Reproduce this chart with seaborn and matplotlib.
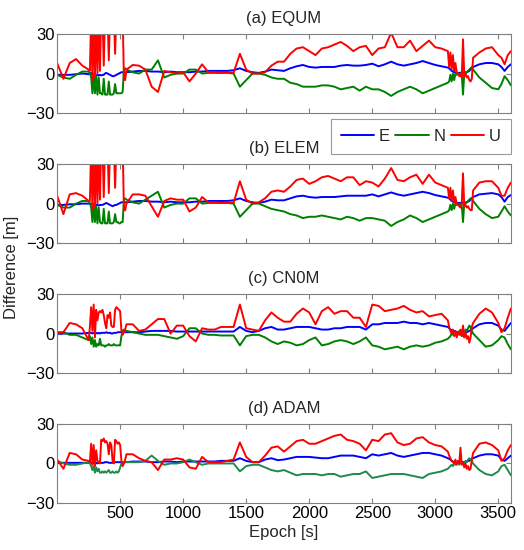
import numpy as np
import pandas as pd
import seaborn as sns
import matplotlib.pyplot as plt
from matplotlib.lines import Line2D

# sampling epochs [s] (denser where the solutions jump around)
epoch = ([0, 50, 100, 150, 200, 250]
         + [260, 270, 280, 290, 300, 310, 320, 330, 340, 350, 360, 370, 380, 390, 400,
            410, 420, 430, 440, 450, 460, 470, 480, 490, 500, 510, 520, 530, 540]
         + [550, 600, 650, 700, 750, 800, 850, 900, 950, 1000, 1050, 1100, 1150, 1200,
            1250, 1300, 1350, 1400, 1450, 1500, 1550, 1600, 1650, 1700, 1750, 1800,
            1850, 1900, 1950, 2000, 2050, 2100, 2150, 2200, 2250, 2300, 2350, 2400,
            2450, 2500, 2550, 2600, 2650, 2700, 2750, 2800, 2850, 2900, 2950, 3000,
            3050, 3100]
         + [3110, 3120, 3130, 3140, 3150, 3160, 3170, 3180, 3190, 3200, 3210, 3220,
            3230, 3240, 3250, 3260, 3270, 3280, 3290, 3300]
         + [3350, 3400, 3450, 3500, 3525, 3550, 3575, 3600])

# (a) EQUM
E_a = ([-1, -1, -1, -0.5, 0, -0.5]
       + [0, 0.5, -1, -0.5, -1, -1.5, -1, -1.5, -1, -1.5, -1, -1, 0, 0.5, 0, -0.5, -1, -1.5,
          -2, -2, -1.5, -1, -0.5, 0, 0.5, 1, 1, 1, 1]
       + [1, 1.5, 2, 2, 1.5, 1.5, 1, 1.5, 1, 1, 1, 1.5, 1.5, 2, 2, 2, 2, 2.5, 4, 2, 1, 0.5,
          1.5, 3, 2.5, 2, 4, 5.5, 6.5, 5, 4.5, 5, 5, 5, 6, 6.5, 6, 6, 6.5, 7.5, 5.5, 7, 9,
          7, 6, 7, 8, 9.5, 8, 6.5, 5.5, 4.5]
       + [4, 3, 2, 1.5, 1, 1, 0.5, 0.5, 0.5, 0.5, 1, 0.5, 0.5, 1, 1, 1.5, 2, 3, 4, 5]
       + [7, 8, 8, 7, 5, 2, 5, 7])
N_a = ([-1, -3, -4, -1, 1.5, 1.5]
       + [0, -3, -15, 0, -15, -2, -16, -3, -15, -15, -16, -4, -16, -16, -16, -6, -16, -16,
          -16, -15, -8, -15, -15, -15, -15, -15, -14, 3, 4]
       + [3, 1, 0, 3, 3, 10, -3, -1, 0, 0, 3, 3, 0, 0.5, 0.5, 0.5, 0.5, 0, -10, -5, 0, 0,
          -1, -3, -4, -4, -7, -8, -10, -10, -10, -9, -9, -10, -12, -11, -10, -13, -10, -12,
          -12, -14, -17, -14, -12, -10, -12, -15, -13, -11, -9, -7]
       + [-6, -1, -6, 0, -5, 0, -1, 0, -1, 0, -1, -16, 0, 0, 1, 2, 3, 4, 5, 3]
       + [-3, -7, -11, -12, -8, -2, -5, -9])
U_a = ([8, -4, 8, 11, 6, 3]
       + [2, 45, -5, 45, -3, 45, 0, 45, 2, 45, 45, 6, 45, 45, 45, 10, 45, 45, 45, 45, 15,
          45, 45, 45, 45, 45, 45, -4, -5]
       + [3, 6.5, 6, 3, -10, -14, 2, 1, 0, 1, -6, 0, 7, 1, 1, 0.5, 1, 0.5, 15, 3, 0, 0, 1,
          6, 9, 9, 15, 19, 20, 17, 14, 19, 20, 22, 24, 21, 17, 20, 21, 14, 19, 20, 31, 20,
          20, 25, 17, 21, 25, 20, 19, 17]
       + [5, 16, 3, 14, 2, 8, 1, 0, -2, 0, -3, 26, -2, 0, -3, -2, -5, -6, -4, 12]
       + [16, 19, 20, 14, 12, 7, 14, 17])

# (b) ELEM
E_b = ([-1, -1, -0.5, -0.5, 0, 0]
       + [0, 0, -0.5, -0.5, -1, -1, -1, -1.5, -1, -1, -1, -0.5, 0, 0.5, 0, -0.5, -1, -1.5,
          -2, -1.5, -1, -1, -0.5, 0, 0.5, 1, 1, 1, 1]
       + [1, 1.5, 2, 2, 1.5, 1.5, 1, 1.5, 1, 1, 1, 1.5, 1.5, 2, 2, 2, 2, 2.5, 4, 2, 1, 0.5,
          1.5, 3, 2.5, 2.5, 4, 5.5, 6, 5, 4.5, 5, 5, 5, 5.5, 6, 6, 6, 6, 7, 5.5, 7, 8.5,
          7, 6, 7, 8, 9, 8, 6.5, 5.5, 4.5]
       + [4, 3, 2, 1.5, 1, 1, 0.5, 0.5, 0.5, 0.5, 1, 0.5, 0.5, 1, 1, 1.5, 2, 3, 4, 5]
       + [7, 7.5, 8, 7, 5, 1.5, 5, 6.5])
N_b = ([-1, -3, -3, 0, 2, 2]
       + [0, -3, -14, 0, -14, -2, -15, -3, -14, -15, -15, -4, -15, -15, -15, -6, -15, -15,
          -15, -14, -8, -14, -14, -15, -15, -14, -14, 3, 4]
       + [3, 1, 0, 3, 6, 9, -3, -1, 0, 0, 4, 4, 0, 0.5, 0.5, 0.5, 0.5, 0, -10, -5, 0, 0,
          -2, -4, -5, -6, -8, -9, -11, -10, -10, -9, -10, -11, -12, -10, -11, -13, -11, -11,
          -12, -13, -17, -14, -12, -9, -11, -14, -12, -10, -8, -6]
       + [-5, -1, -5, 0, -4, 0, -1, 0, -1, 0, -1, -14, 0, 0, 1, 2, 3, 4, 4, 2]
       + [-4, -8, -11, -10, -6, -2, -6, -9])
U_b = ([6, -8, 7, 8, 6, 2]
       + [2, 45, -4, 45, -3, 45, 0, 45, 3, 45, 45, 5, 45, 45, 45, 8, 45, 45, 45, 45, 12,
          45, 45, 45, 45, 45, 45, -5, -5]
       + [0, 7, 7, 6, -2, -10, 2, 4, 3, 3, -6, -3, 5, 1, 1, 0.5, 1, 0.5, 17, 3, 0, 1, 4,
          9, 10, 9, 13, 18, 19, 15, 17, 20, 21, 19, 17, 20, 20, 14, 17, 16, 13, 19, 27, 18,
          17, 20, 22, 15, 22, 16, 14, 12]
       + [4, 12, 2, 10, 1, 5, 0, -1, -2, -3, 0, 23, -2, -1, -3, -2, -4, -5, -5, 10]
       + [16, 17, 17, 12, 6, 6, 12, 16])

# (c) CN0M
E_c = ([0, 0, 0, 0, 0, 0.5]
       + [0.5, 0.5, 0, 0.5, 0, 0.5, 0, 0.5, 0, 0.5, 0.5, 0.5, 0.5, 1, 0.5, 0.5, 0.5, 0, 0,
          0.5, 0.5, 0.5, 1, 1, 1, 1, 1, 1, 1]
       + [1, 1, 1, 1.5, 2, 2, 2, 2, 1.5, 1.5, 1.5, 1.5, 1.5, 1.5, 1.5, 1.5, 1.5, 1.5, 5, 2,
          1, 2, 4, 5, 3, 3, 4, 5, 5, 5, 4, 3, 3, 4, 4, 5, 5, 5, 3, 7, 7, 8, 8, 8, 9, 8, 8,
          7, 8, 7, 6, 5]
       + [4, 3, 2.5, 2, 2, 1.5, 1, 1, 1, 1, 1, 1, 1, 1, 1, 1.5, 2, 2.5, 3, 4]
       + [7, 8, 8, 6, 3, 2, 5, 8])
N_c = ([0, 1, -1, -1, -3, -5]
       + [-2, -8, -3, -10, -5, -10, -8, -9, -4, -9, -9, -9, -10, -9, -9, -8, -9, -9, -9,
          -8, -9, -9, -9, -9, -9, -2, 2, 3, 2]
       + [2, 1, 0, -1, -1, -1, -2, -3, -4, -2, 4, 4, 0, -1, -1, -1.5, -1.5, -1.5, -9, -2,
          -1, -1, -3, -6, -8, -6, -7, -9, -8, -5, -3, -9, -8, -6, -5, -6, -8, -6, -3, -9,
          -10, -12, -11, -10, -12, -10, -9, -10, -9, -7, -6, -4]
       + [-3, -2, 0, -1, 0, 1, -1, 0, 2, -1, 1, -2, 0, 3, 2, 4, 6, 5, 2, 0]
       + [-5, -10, -9, -5, -2, -3, -8, -12])
U_c = ([1, 1, 8, 7, 4, -5]
       + [5, 20, 2, 22, -3, 18, 10, 16, 17, 16, 18, 14, 8, 4, 14, 12, 16, 6, 5, 5, 18, 20,
          19, 18, 17, 2, -1, 1, 3]
       + [7, 7, 2, 3, 7, 11, 11, 0, 6, 6, -2, -6, 4, 3, 3, 5, 5, 5, 22, 4, 3, 2, 10, 16,
          12, 9, 9, 15, 19, 16, 7, 17, 20, 15, 17, 17, 12, 12, 5, 22, 21, 17, 18, 19, 21,
          18, 16, 17, 13, 14, 15, 10]
       + [5, 2, 0, 3, -2, 2, -3, 1, -1, 3, -2, 6, -3, 1, -4, -2, -7, -3, 5, 8]
       + [15, 19, 16, 8, 1, 4, 12, 19])

# (d) ADAM
E_d = ([0.5, 0.5, 0.5, 0.5, 0.5, 0.5]
       + [0.5, 0.5, 0, 0.5, 0, 0.5, 0, 0.5, 0.5, 0.5, 0.5, 0.5, 1, 1, 1, 0.5, 0.5, 0.5,
          0.5, 0.5, 1, 1, 1, 1, 1, 1, 1, 1, 1]
       + [1, 1.5, 1.5, 1.5, 1, 1, 1.5, 1.5, 1, 1.5, 1.5, 1.5, 1.5, 1.5, 1.5, 2, 2, 2, 4, 2,
          1, 1, 3, 4, 2.5, 3, 4, 5, 5, 5, 4.5, 4, 4, 5, 6, 6, 6, 5, 4, 7, 6, 7, 8, 6, 5, 6,
          7, 8, 8, 7, 6, 4]
       + [3.5, 3, 2, 1.5, 1, 1, 1, 0.5, 0.5, 0.5, 1, 1, 1, 1, 1.5, 2, 2, 3, 3.5, 4]
       + [6, 7, 7, 6, 3, 2, 4, 6])
N_d = ([2, 0, -1, -1, 0, 1]
       + [0, -2, -5, -2, -7, -3, -6, -4, -7, -7, -6, -7, -6, -7, -6, -5, -7, -7, -6, -7,
          -7, -6, -7, -6, -3, 0, 1, 1, 1]
       + [1, 1, 1, 2, 6, 2, -1, 0, 0, 1, 3, 1, -1, 0, 0, 0, 0, 0, -6, -2, -1, -1, -3, -5,
          -6, -5, -7, -9, -8, -8, -8, -9, -8, -8, -10, -9, -8, -8, -6, -11, -10, -9, -8,
          -8, -8, -9, -10, -11, -8, -7, -6, -4]
       + [-3, -2, -1, -2, 0, -1, 0, 1, -1, 1, 0, 1, 0, 2, 1, 3, 4, 3, 2, 0]
       + [-5, -8, -9, -6, -2, -1, -5, -9])
U_d = ([3, -4, 8, 7, 3, 2]
       + [1, 15, -1, 14, -2, 10, 2, 1, 0, 18, 17, 19, 16, 17, 15, 7, 16, 14, 2, 0, 18, 17,
          15, 16, 14, 2, -2, 0, 3]
       + [7, 7, 4, 2, 1, -5, 3, 3, 4, 3, -3, -4, 5, 1, 1, 1, 2, 3, 16, 5, 1, 1, 6, 12, 13,
          9, 13, 17, 18, 15, 15, 17, 19, 21, 22, 18, 17, 15, 10, 18, 17, 22, 23, 16, 14,
          15, 19, 20, 16, 14, 13, 9]
       + [6, 4, 2, 1, 0, 3, -1, 2, 0, 12, -1, 1, -3, 0, -4, -2, -5, -4, 3, 8]
       + [15, 16, 14, 10, 2, 4, 10, 14])

titles = ['(a) EQUM', '(b) ELEM', '(c) CN0M', '(d) ADAM']
panels = [(E_a, N_a, U_a), (E_b, N_b, U_b), (E_c, N_c, U_c), (E_d, N_d, U_d)]
for p in panels:
    for s in p:
        assert len(s) == len(epoch), (len(s), len(epoch))

sns.set_style('white')
plt.rcParams['font.family'] = ['Liberation Sans', 'DejaVu Sans']
plt.rcParams.update({'xtick.direction': 'in', 'ytick.direction': 'in',
                     'xtick.top': True, 'ytick.right': True,
                     'xtick.major.size': 3.5, 'ytick.major.size': 3.5,
                     'xtick.color': '#808080', 'ytick.color': '#808080',
                     'xtick.labelcolor': 'black', 'ytick.labelcolor': 'black',
                     'xtick.bottom': True, 'ytick.left': True})

FS = 12
LW = 1.4
fig = plt.figure(figsize=(5.24, 5.5), dpi=100)
bottoms = [0.7945, 0.558, 0.3218, 0.0855]
n_green = ['#008000', '#008000', '#008000', '#1f8a4c']

for i, (title, (E, N, U)) in enumerate(zip(titles, panels)):
    ax = fig.add_axes([0.109, bottoms[i], 0.866, 0.1436])
    df = pd.DataFrame({'Epoch': epoch * 3,
                       'Diff': E + N + U,
                       'comp': ['E'] * len(epoch) + ['N'] * len(epoch) + ['U'] * len(epoch)})
    sns.lineplot(data=df, x='Epoch', y='Diff', hue='comp', ax=ax, legend=False,
                 palette={'E': '#0000ff', 'N': n_green[i], 'U': '#ff0000'},
                 estimator=None, sort=False, linewidth=LW)
    ax.set_xlim(0, 3600)
    ax.set_ylim(-30, 30)
    ax.set_yticks([-30, 0, 30])
    ax.set_xticks([500, 1000, 1500, 2000, 2500, 3000, 3500])
    ax.set_ylabel('')
    ax.set_title(title, fontsize=FS, pad=8)
    ax.tick_params(labelsize=FS, pad=2)
    for sp in ax.spines.values():
        sp.set_color('#808080')
        sp.set_linewidth(0.8)
    if i < 3:
        ax.set_xticklabels([])
        ax.set_xlabel('')
    else:
        ax.set_xlabel('Epoch [s]', fontsize=FS, labelpad=3)

fig.text(0.022, 0.513, 'Difference [m]', rotation=90, va='center', ha='center', fontsize=FS)

handles = [Line2D([], [], color='#0000ff', lw=LW),
           Line2D([], [], color='#008000', lw=LW),
           Line2D([], [], color='#ff0000', lw=LW)]
leg = fig.legend(handles, ['E', 'N', 'U'], ncol=3, loc='upper right',
                 bbox_to_anchor=(0.975, 0.7836), borderaxespad=0,
                 frameon=True, fancybox=False,
                 edgecolor='#808080', handlelength=2.0, handletextpad=0.3,
                 columnspacing=0.3, borderpad=0.6, fontsize=FS)
leg.get_frame().set_linewidth(0.8)

fig.savefig('out.png', dpi=100)
